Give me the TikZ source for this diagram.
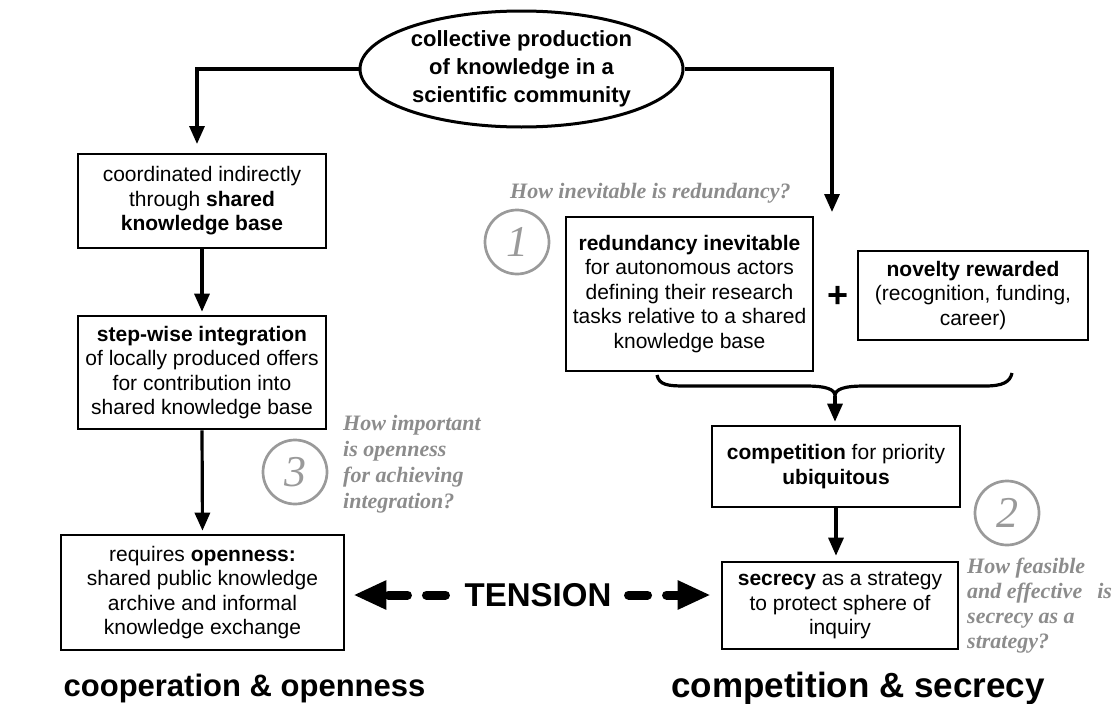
\documentclass[tikz,border=0pt]{standalone}
\usepackage{fontspec}
\setmainfont{Liberation Sans}
\newfontfamily\qfont{Liberation Serif}
\usetikzlibrary{arrows.meta,calc,shapes.geometric}
\definecolor{qgray}{HTML}{8C8C8C}
\definecolor{cgray}{HTML}{9A9A9A}
\begin{document}
\begin{tikzpicture}[x=1pt,y=-1pt,
  box/.style={draw, line width=2.6pt, inner sep=0pt, align=center, font=\fontsize{21}{24.5}\selectfont},
  arr/.style={line width=3.2pt, -{Triangle[length=18pt,width=15pt]}},
  ques/.style={anchor=west, inner sep=0pt, align=left, text=qgray, font=\qfont\bfseries\itshape\fontsize{22}{25.5}\selectfont},
  num/.style={circle, draw=cgray, line width=2.7pt, minimum size=64pt, inner sep=0pt, text=cgray, font=\qfont\itshape\fontsize{44}{44}\selectfont},
  tens/.style={line width=9pt, line cap=round, dash pattern=on 19pt off 19pt, -{Triangle[length=33pt,width=27pt]}},
  title/.style={inner sep=0pt, font=\bfseries\fontsize{31}{31}\selectfont}
]
\useasboundingbox (0,0) rectangle (1119,704);

\node[ellipse, draw, line width=3pt, minimum width=323pt, minimum height=116pt, inner sep=0pt, align=center, font=\bfseries\fontsize{22}{28}\selectfont] (ell) at (521.5,69) {collective production\\of knowledge in a\\scientific community};

\node[box, minimum width=248pt, minimum height=94pt] (b1) at (202,201) {coordinated indirectly\\through \textbf{shared}\\\textbf{knowledge base}};
\node[box, minimum width=248pt, minimum height=113pt] (b2) at (202,372.5) {\textbf{step-wise integration}\\of locally produced offers\\for contribution into\\shared knowledge base};
\node[box, minimum width=283pt, minimum height=115pt] (b3) at (202.5,592.5) {requires \textbf{openness:}\\shared public knowledge\\archive and informal\\knowledge exchange};

\node[box, minimum width=247pt, minimum height=154pt] (red) at (689.5,294) {\textbf{redundancy inevitable}\\for autonomous actors\\defining their research\\tasks relative to a shared\\knowledge base};
\node[box, minimum width=230pt, minimum height=89pt] (nov) at (973,295.5) {\textbf{novelty rewarded}\\(recognition, funding,\\career)};
\node[box, minimum width=248pt, minimum height=81pt] (comp) at (836,466.5) {\textbf{competition} for priority\\\textbf{ubiquitous}};
\node[box, minimum width=236pt, minimum height=87pt] (sec) at (840,605.5) {\textbf{secrecy} as a strategy\\to protect sphere of\\inquiry};

\node[inner sep=0pt, font=\bfseries\fontsize{36}{36}\selectfont] (plus) at (838,297) {+};

\coordinate (t1) at (197,144);
\coordinate (t2) at (832,212);
\draw[arr] (ell.west) -| (t1);
\draw[arr] (ell.east) -| (t2);
\draw[arr, shorten >=3pt] (b1.south) -- (b2.north);
\draw[arr, shorten >=3pt] (b2.south) -- (b3.north);

\coordinate (bl) at (657,375);
\coordinate (bm) at (835,396);
\coordinate (br) at (1012,373);
\draw[line width=3.2pt] (bl) .. controls (659,385) and (668,386) .. (685,386) -- (805,386) .. controls (826,386) and (835,389) .. (bm) .. controls (835,389) and (844,386) .. (865,386) -- (985,386) .. controls (1003,386) and (1010,382) .. (br);
\draw[arr, shorten >=3pt] (bm) -- (bm |- comp.north);
\draw[arr, shorten >=5pt] (comp.south) -- (comp.south |- sec.north);

\node[inner sep=0pt, font=\bfseries\fontsize{33}{33}\selectfont] (ten) at (538,595) {TENSION};
\draw[tens, shorten <=19pt, shorten >=8pt] (ten.west) -- (ten.west -| b3.east);
\draw[tens, shorten <=17pt, shorten >=10pt] (ten.east) -- (ten.east -| sec.west);

\node[num] (n1) at (517,242) {1};
\node[num] (n3) at (295,472) {3};
\node[num] (n2) at (1007,513) {2};

\node[ques] (q1) at (510,193) {How inevitable is redundancy?};
\node[ques, font=\qfont\bfseries\itshape\fontsize{22}{26}\selectfont] (q3) at (343,464) {How important\\is openness\\for achieving\\integration?};
\node[ques, font=\qfont\bfseries\itshape\fontsize{22}{25}\selectfont] (q2) at (967,605.5) {How feasible\\and effective\hspace{15pt}is\\secrecy as a\\strategy?};

\node[title] (tl) at (244.5,688) {cooperation \& openness};
\node[title, font=\bfseries\fontsize{35}{35}\selectfont] (tr) at (858,688) {competition \& secrecy};
\end{tikzpicture}
\end{document}
